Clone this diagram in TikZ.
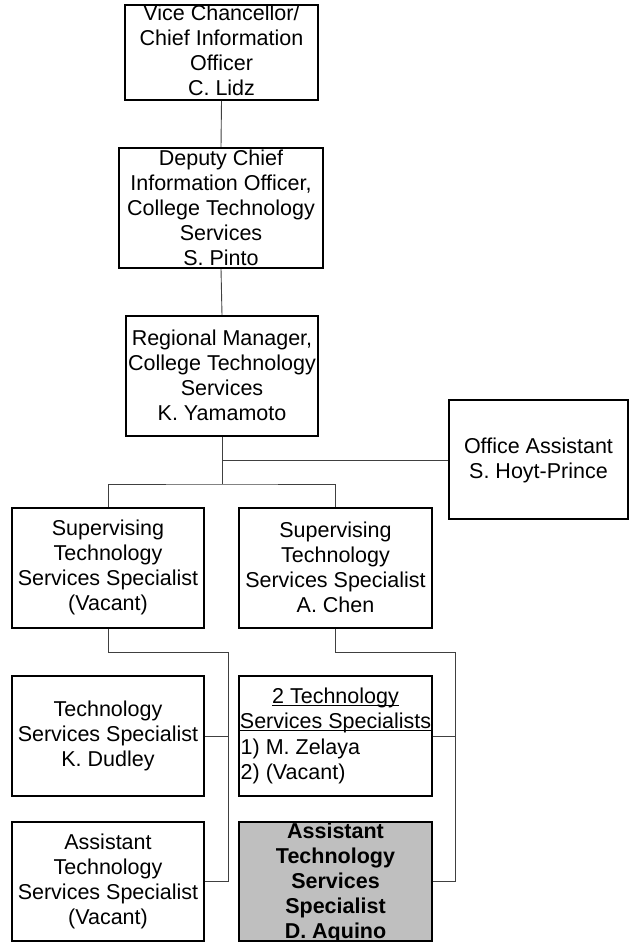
\documentclass[tikz,border=0pt]{standalone}
\usepackage{fontspec}
\setmainfont{Liberation Sans}
\begin{document}
\begin{tikzpicture}[x=1pt,y=-1pt,
  box/.style={draw=black,line width=1.6pt,rectangle,inner sep=0pt,minimum width=#1},
  box/.default=192pt,
  txt/.style={inner sep=0pt,align=center,font=\fontsize{21.5}{25}\selectfont},
  conn/.style={draw=black!75,line width=0.9pt}]
\useasboundingbox (0,0) rectangle (629,942);
\newcommand\ulin[1]{\setbox0\hbox{#1}\rlap{\rule[-3pt]{\wd0}{0.9pt}}\box0}
% boxes
\node[box=193pt,minimum height=95pt] (vc) at (221.5,52.5) {};
\node[box=204pt,minimum height=120pt] (dep) at (221,208) {};
\node[box=192pt,minimum height=120pt] (reg) at (222,376) {};
\node[box=179pt,minimum height=119pt] (oa) at (538.5,459.5) {};
\node[box=192pt,minimum height=120pt] (sup1) at (108,568) {};
\node[box=193pt,minimum height=120pt] (sup2) at (335.5,568) {};
\node[box=192pt,minimum height=120pt] (dud) at (108,736) {};
\node[box=193pt,minimum height=120pt] (two) at (335.5,736) {};
\node[box=192pt,minimum height=119pt] (asst) at (108,881.5) {};
\node[box=193pt,minimum height=119pt,fill=black!25] (aq) at (335.5,881.5) {};
% texts
\node[txt] (tvc) at (221.5,50) {Vice Chancellor/\\Chief Information\\Officer\\C. Lidz};
\node[txt] (tdep) at (221,207.5) {Deputy Chief\\Information Officer,\\College Technology\\Services\\S. Pinto};
\node[txt] (treg) at (222,375.5) {Regional Manager,\\College Technology\\Services\\K. Yamamoto};
\node[txt] (toa) at (538.5,460.5) {Office Assistant\\S. Hoyt-Prince};
\node[txt] (tsup1) at (108,567.5) {Supervising\\Technology\\Services Specialist\\(Vacant)};
\node[txt] (tsup2) at (335.5,567.5) {Supervising\\Technology\\Services Specialist\\A. Chen};
\node[txt] (tdud) at (108,735.5) {Technology\\Services Specialist\\K. Dudley};
\node[txt] (ttwo) at (335.5,710) {\ulin{2 Technology}\\\ulin{Services Specialists}};
\node[txt,align=left,anchor=west] (tlist) at (240.5,761.5) {1) M. Zelaya\\2) (Vacant)};
\node[txt] (tasst) at (108,881.5) {Assistant\\Technology\\Services Specialist\\(Vacant)};
\node[txt,font=\fontsize{21.5}{25}\selectfont\bfseries] (taq) at (335.5,882.5) {Assistant\\Technology\\Services\\Specialist\\D. Aquino};
% connectors
\coordinate (j1) at (222,460);
\coordinate (j2) at (222,484);
\coordinate (l1) at (228,652);
\coordinate (r1) at (455,652);
\draw[conn] (vc.south) -- (dep.north);
\draw[conn] (dep.south) -- (reg.north);
\draw[conn] (reg.south) -- (j2);
\draw[conn] (j1) -- (oa.west |- j1);
\draw[conn] (sup1.north) |- (j2) -| (sup2.north);
\draw[conn] (sup1.south) |- (l1) |- (asst.east);
\draw[conn] (dud.east) -- (dud.east -| l1);
\draw[conn] (sup2.south) |- (r1) |- (aq.east);
\draw[conn] (two.east) -- (two.east -| r1);
\end{tikzpicture}
\end{document}
